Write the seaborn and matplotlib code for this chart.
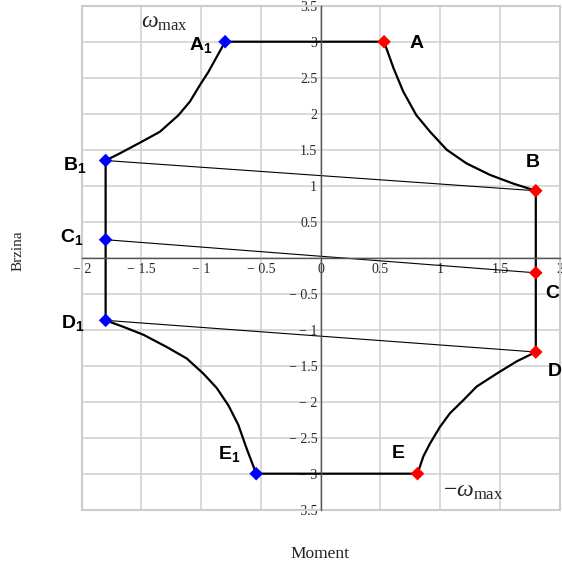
import numpy as np
import pandas as pd
import matplotlib
matplotlib.use("Agg")
import matplotlib.pyplot as plt
import seaborn as sns
from matplotlib.patches import Rectangle

# corner points of the operating region
right_x = [0.53, 1.80, 1.80, 1.80, 0.81]
right_y = [3.0, 0.93, -0.21, -1.31, -3.0]
left_x = [-0.80, -1.80, -1.80, -1.80, -0.54]
left_y = [3.0, 1.35, 0.25, -0.87, -3.0]

# curved edges (estimated points along each curve)
ab_x = [0.53, 0.61, 0.69, 0.80, 0.915, 1.054, 1.22, 1.417, 1.61, 1.80]
ab_y = [3.0, 2.63, 2.31, 1.98, 1.75, 1.50, 1.31, 1.15, 1.03, 0.93]
de_x = [1.80, 1.64, 1.473, 1.305, 1.193, 1.082, 0.998, 0.915, 0.859, 0.81]
de_y = [-1.31, -1.44, -1.61, -1.79, -1.98, -2.16, -2.35, -2.58, -2.76, -3.0]
e1d1_x = [-0.54, -0.62, -0.69, -0.773, -0.87, -0.982, -1.121, -1.289, -1.484, -1.652, -1.80]
e1d1_y = [-3.0, -2.65, -2.32, -2.05, -1.81, -1.61, -1.40, -1.24, -1.07, -0.96, -0.87]
b1a1_x = [-1.80, -1.68, -1.51, -1.345, -1.19, -1.094, -1.01, -0.94, -0.87, -0.80]
b1a1_y = [1.35, 1.45, 1.60, 1.75, 1.98, 2.17, 2.40, 2.58, 2.79, 3.0]

x_ticks = [-2, -1.5, -1, -0.5, 0, 0.5, 1, 1.5, 2]
y_ticks = [-3.5, -3, -2.5, -2, -1.5, -1, -0.5, 0, 0.5, 1, 1.5, 2, 2.5, 3, 3.5]

sns.set_theme(style="whitegrid")
plt.rcParams['font.family'] = ['Liberation Serif', 'DejaVu Serif']
plt.rcParams['mathtext.fontset'] = 'custom'
plt.rcParams['mathtext.rm'] = 'Liberation Serif'
plt.rcParams['mathtext.it'] = 'Liberation Serif:italic'
plt.rcParams['mathtext.bf'] = 'Liberation Sans:bold'

# outline: A1 -> A -> B -> C -> D -> E -> E1 -> D1 -> C1 -> B1 -> A1
out_x = [left_x[0]] + ab_x + [right_x[2]] + de_x + e1d1_x + [left_x[2]] + b1a1_x
out_y = [left_y[0]] + ab_y + [right_y[2]] + de_y + e1d1_y + [left_y[2]] + b1a1_y
outline = pd.DataFrame({'x': out_x, 'y': out_y})

# chords between the left and right points B, C, D
chords = pd.DataFrame({
    'x': [left_x[i] for i in (1, 2, 3)] + [right_x[i] for i in (1, 2, 3)],
    'y': [left_y[i] for i in (1, 2, 3)] + [right_y[i] for i in (1, 2, 3)],
    'seg': [0, 1, 2, 0, 1, 2],
})

points = pd.DataFrame({
    'x': right_x + left_x,
    'y': right_y + left_y,
    'side': ['right'] * 5 + ['left'] * 5,
})

fig = plt.figure(figsize=(5.62, 5.66), dpi=100)
ax = fig.add_axes([0.1454, 0.0995, 0.8505, 0.8904])

sns.lineplot(data=chords, x='x', y='y', units='seg', estimator=None, sort=False,
             color='black', linewidth=0.8, ax=ax)
sns.lineplot(data=outline, x='x', y='y', estimator=None, sort=False,
             color='black', linewidth=1.6, ax=ax)
sns.scatterplot(data=points, x='x', y='y', hue='side', marker='D', s=48,
                palette={'right': '#ff0000', 'left': '#0000ff'}, linewidth=0,
                legend=False, zorder=5, ax=ax)

ax.set_xlim(-2, 2)
ax.set_ylim(-3.5, 3.5)
ax.set_xticks(x_ticks)
ax.set_yticks(y_ticks)

def fmt(v):
    s = ('%g' % abs(v))
    return ('\u2212 ' + s) if v < 0 else s

ax.set_xticklabels([fmt(v) for v in x_ticks])
ax.set_yticklabels(['' if v == 0 else fmt(v) for v in y_ticks])
ax.grid(True, color='#d0d0d0', linewidth=1.1)
ax.set_xlabel('')
ax.set_ylabel('')

for side in ('left', 'bottom'):
    ax.spines[side].set_position('zero')
    ax.spines[side].set_color('#555555')
    ax.spines[side].set_linewidth(1.0)
    ax.spines[side].set_zorder(3)
for side in ('top', 'right'):
    ax.spines[side].set_visible(False)
ax.add_patch(Rectangle((0, 0), 1, 1, transform=ax.transAxes, fill=False,
                       edgecolor='#cccccc', linewidth=1.5, zorder=1, clip_on=False))

ax.tick_params(axis='both', direction='inout', length=5, width=1.0, color='#555555',
               labelsize=10, labelcolor='#2a2a2a', pad=0)
ax.tick_params(axis='x', pad=1)

# point labels
lab_kw = dict(fontsize=14, color='black', va='center', clip_on=False)
ax.text(0.80, 2.97, r'$\mathbf{A}$', ha='center', **lab_kw)
ax.text(1.77, 1.32, r'$\mathbf{B}$', ha='center', **lab_kw)
ax.text(1.94, -0.50, r'$\mathbf{C}$', ha='center', **lab_kw)
ax.text(1.96, -1.58, r'$\mathbf{D}$', ha='center', **lab_kw)
ax.text(0.65, -2.72, r'$\mathbf{E}$', ha='center', **lab_kw)
ax.text(-1.10, 2.96, r'$\mathbf{A_1}$', ha='left', **lab_kw)
ax.text(-2.16, 1.29, r'$\mathbf{B_1}$', ha='left', **lab_kw)
ax.text(-2.18, 0.29, r'$\mathbf{C_1}$', ha='left', **lab_kw)
ax.text(-2.17, -0.91, r'$\mathbf{D_1}$', ha='left', **lab_kw)
ax.text(-0.86, -2.73, r'$\mathbf{E_1}$', ha='left', **lab_kw)

ax.text(-1.50, 3.27, r'$\omega_{\rm max}$', fontsize=17, ha='left', va='center')
ax.text(1.02, -3.25, r'$-\omega_{\rm max}$', fontsize=17, ha='left', va='center')

fig.text(18 / 562, 1 - 251 / 566, 'Brzina', rotation=90, fontsize=11,
         ha='center', va='center', color='#222222')
fig.text(320 / 562, 1 - 554 / 566, 'Moment', fontsize=12.5,
         ha='center', va='center', color='#222222')

fig.savefig('out.png', dpi=100)
